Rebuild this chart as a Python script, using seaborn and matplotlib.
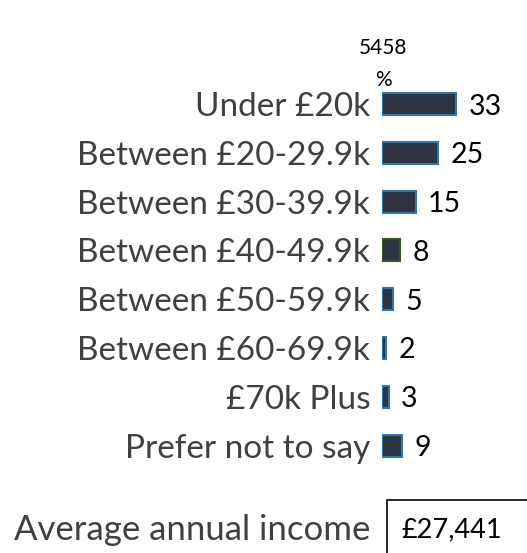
import matplotlib
matplotlib.use("Agg")
import matplotlib.pyplot as plt
import seaborn as sns
import pandas as pd
from matplotlib.patches import Rectangle

categories = ["Under £20k", "Between £20-29.9k", "Between £30-39.9k", "Between £40-49.9k",
              "Between £50-59.9k", "Between £60-69.9k", "£70k Plus", "Prefer not to say"]
values = [33, 25, 15, 8, 5, 2, 3, 9]
base_n = "5458"
unit = "%"
avg_label = "Average annual income"
avg_value = "£27,441"

sns.set_theme(style="white")
plt.rcParams['font.family'] = ['Lato', 'DejaVu Sans']

W, H = 527, 553
fig = plt.figure(figsize=(W / 100, H / 100), dpi=100)

ax_left = 382 / W
ax_bottom = (H - 494.4) / H
ax_height = (494.4 - 55.2) / H
ax = fig.add_axes([ax_left, ax_bottom, 1 - ax_left, ax_height])

df = pd.DataFrame({"cat": categories, "val": values})
sns.barplot(data=df, x="val", y="cat", orient="h", ax=ax, width=0.45,
            color="#2d3442", saturation=1)

edges = ["#2e75b6"] * len(values)
edges[3] = "#2f5a1f"
for bar, ec in zip(ax.patches, edges):
    bar.set_edgecolor(ec)
    bar.set_linewidth(1.5)

ax.set_xlim(0, (W - 382) / 2.24)
ax.set_ylim(8, -1)
ax.set_xlabel("")
ax.set_ylabel("")
ax.set_xticks([])
ax.tick_params(axis="y", length=0, pad=8.5, labelsize=24, labelcolor="#404040")
for s in ax.spines.values():
    s.set_visible(False)
for t in ax.get_yticklabels():
    t.set_va("center_baseline")

texts = ax.bar_label(ax.containers[0], labels=[str(v) for v in values], padding=9,
                     fontsize=20.5, color="black")
for t in texts:
    t.set_va("center_baseline")

fig.text(383 / W, 1 - 48 / H, base_n, ha="center", va="center", fontsize=15, color="black")
fig.text(383 / W, 1 - 80 / H, unit, ha="center", va="center", fontsize=15, color="black")

fig.text(370 / W, 1 - 527 / H, avg_label, ha="right", va="center_baseline", fontsize=25, color="#404040")
fig.patches.append(Rectangle((387 / W, -0.05), 0.5, (H - 500) / H + 0.05,
                             transform=fig.transFigure, fill=False, edgecolor="black",
                             linewidth=1.2))
fig.text(452 / W, 1 - 527 / H, avg_value, ha="center", va="center_baseline", fontsize=19.5, color="black")

fig.savefig("out.png", dpi=100)
